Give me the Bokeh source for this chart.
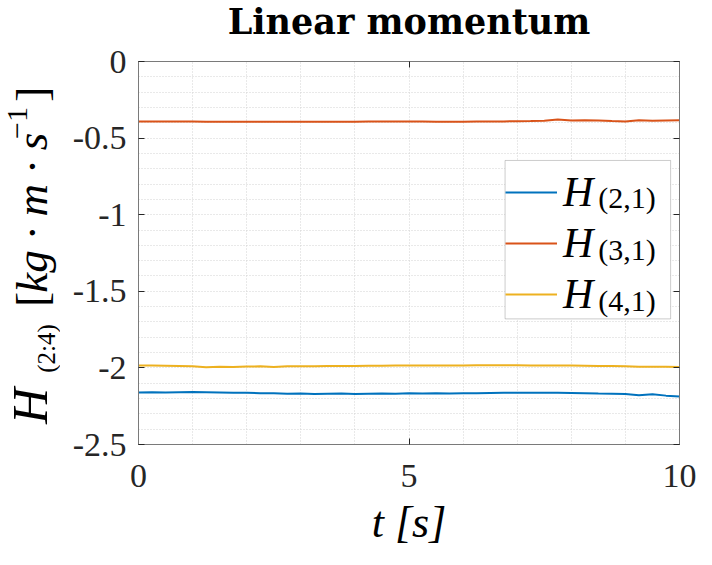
from math import pi
from bokeh.plotting import figure
from bokeh.layouts import gridplot
from bokeh.models import (Range1d, LinearAxis, FixedTicker, Label, Legend,
                          LegendItem, BoxAnnotation)
from bokeh.embed import file_html
from bokeh.resources import INLINE

# ---------------- data ----------------
t = [0.0, 0.25, 0.5, 0.75, 1.0, 1.25, 1.5, 1.75, 2.0, 2.25, 2.5, 2.75, 3.0,
     3.25, 3.5, 3.75, 4.0, 4.25, 4.5, 4.75, 5.0, 5.25, 5.5, 5.75, 6.0, 6.25,
     6.5, 6.75, 7.0, 7.25, 7.5, 7.75, 8.0, 8.25, 8.5, 8.75, 9.0, 9.25, 9.5,
     9.75, 10.0]

H21 = [-2.160, -2.159, -2.160, -2.159, -2.158, -2.159, -2.160, -2.162, -2.163,
       -2.165, -2.166, -2.168, -2.167, -2.170, -2.168, -2.167, -2.170, -2.168,
       -2.167, -2.168, -2.166, -2.167, -2.166, -2.167, -2.166, -2.165, -2.164,
       -2.163, -2.162, -2.162, -2.162, -2.163, -2.164, -2.165, -2.167, -2.168,
       -2.170, -2.178, -2.172, -2.181, -2.186]

H31 = [-0.392, -0.392, -0.391, -0.392, -0.392, -0.393, -0.394, -0.394, -0.394,
       -0.394, -0.393, -0.393, -0.393, -0.393, -0.393, -0.393, -0.393, -0.392,
       -0.392, -0.392, -0.392, -0.392, -0.393, -0.393, -0.394, -0.392, -0.392,
       -0.391, -0.390, -0.389, -0.386, -0.379, -0.385, -0.384, -0.385, -0.389,
       -0.391, -0.384, -0.386, -0.385, -0.384]

H41 = [-1.984, -1.985, -1.986, -1.987, -1.990, -1.995, -1.993, -1.994, -1.991,
       -1.990, -1.994, -1.990, -1.989, -1.990, -1.988, -1.988, -1.987, -1.986,
       -1.986, -1.985, -1.985, -1.985, -1.984, -1.984, -1.984, -1.983, -1.983,
       -1.983, -1.983, -1.984, -1.984, -1.985, -1.985, -1.986, -1.987, -1.988,
       -1.990, -1.993, -1.992, -1.993, -1.994]

series_names = ["(2,1)", "(3,1)", "(4,1)"]
series_colors = ["#0072BD", "#D95319", "#EDB120"]

x_ticks = [0, 5, 10]
x_tick_labels = ["0", "5", "10"]
y_ticks = [0, -0.5, -1, -1.5, -2, -2.5]
y_tick_labels = ["0", "-0.5", "-1", "-1.5", "-2", "-2.5"]
x_minor = list(range(0, 11))
y_minor = [round(-0.1 * k, 1) for k in range(0, 26)]

title_text = "Linear momentum"
x_label_text = "t [s]"

SERIF = "Liberation Serif"
TEXT_COLOR = "#262626"
AX_COLOR = "#7a7a7a"

# ---------------- main figure ----------------
p = figure(width=636, height=507, output_backend="svg", toolbar_location=None,
           x_range=Range1d(0, 10), y_range=Range1d(-2.5, 0),
           min_border_left=78, min_border_right=17,
           min_border_top=19, min_border_bottom=105)
p.background_fill_color = "white"
p.border_fill_color = "white"
p.outline_line_color = AX_COLOR
p.outline_line_width = 1


def style_axis(ax, ticks, labels=None):
    ax.ticker = FixedTicker(ticks=ticks)
    ax.major_tick_in = 6
    ax.major_tick_out = 0
    ax.minor_tick_in = 0
    ax.minor_tick_out = 0
    ax.major_tick_line_color = "#262626"
    ax.axis_line_color = AX_COLOR
    ax.major_label_text_font = SERIF
    ax.major_label_text_color = TEXT_COLOR
    if labels is not None:
        ax.major_label_overrides = {tk: lb for tk, lb in zip(ticks, labels)}
        ax.major_label_text_font_size = "34px"
    else:
        ax.major_label_overrides = {tk: "" for tk in ticks}
        ax.major_label_text_font_size = "1px"
        ax.major_label_standoff = 0


style_axis(p.xaxis[0], x_ticks, x_tick_labels)
style_axis(p.yaxis[0], y_ticks, y_tick_labels)
p.xaxis[0].major_label_standoff = 20
p.yaxis[0].major_label_standoff = 12
p.xaxis[0].axis_label = x_label_text
p.xaxis[0].axis_label_text_font = SERIF
p.xaxis[0].axis_label_text_font_style = "italic"
p.xaxis[0].axis_label_text_font_size = "44px"
p.xaxis[0].axis_label_text_color = "#000000"
p.xaxis[0].axis_label_standoff = 8

top_ax = LinearAxis()
style_axis(top_ax, x_ticks)
p.add_layout(top_ax, "above")
right_ax = LinearAxis()
style_axis(right_ax, y_ticks)
p.add_layout(right_ax, "right")

p.xgrid.ticker = FixedTicker(ticks=x_minor)
p.ygrid.ticker = FixedTicker(ticks=y_minor)
for g in (p.xgrid[0], p.ygrid[0]):
    g.grid_line_color = "#d2d2d2"
    g.grid_line_dash = "1 2"
    g.grid_line_width = 1

renderers = []
for ys, col in zip([H21, H31, H41], series_colors):
    renderers.append(p.line(t, ys, line_color=col, line_width=2))

# legend: white box underneath, transparent legend on top, subscripts between
p.add_layout(BoxAnnotation(left=6.776, right=9.836, top=-0.646, bottom=-1.680,
                           fill_color="white", fill_alpha=1.0,
                           line_color="#555555", line_width=1,
                           level="underlay"))

for name, yc in zip(series_names, [-0.886, -1.224, -1.562]):
    p.add_layout(Label(x=8.50, y=yc, text=name, text_font=SERIF,
                       text_font_size="30px", text_color="#000000",
                       text_align="left", text_baseline="middle"))

legend = Legend(items=[LegendItem(label="H", renderers=[r]) for r in renderers],
                location=(367, 126), padding=3, spacing=3,
                glyph_width=52, glyph_height=40, label_height=40,
                label_width=100, label_standoff=6,
                label_text_font=SERIF, label_text_font_style="italic",
                label_text_font_size="42px", label_text_color="#000000",
                border_line_color=None,
                background_fill_alpha=0.0,
                margin=0)
p.add_layout(legend)

# ---------------- title strip (shares the x range of the plot) ----------------
top_fig = figure(width=636, height=42, output_backend="svg",
                 toolbar_location=None, x_range=p.x_range,
                 y_range=Range1d(0, 42), x_axis_type=None, y_axis_type=None,
                 min_border_left=78, min_border_right=17,
                 min_border_top=0, min_border_bottom=0)
top_fig.outline_line_color = None
top_fig.background_fill_color = "white"
top_fig.border_fill_color = "white"
top_fig.add_layout(Label(x=5.0, y=21, text=title_text, text_font="DejaVu Serif",
                         text_font_style="bold", text_font_size="35px",
                         text_color="#000000", text_align="center",
                         text_baseline="middle"))

# ---------------- y label strip (shares the y range of the plot) ----------------
left_fig = figure(width=60, height=507, output_backend="svg",
                  toolbar_location=None, x_range=Range1d(0, 60),
                  y_range=p.y_range, x_axis_type=None, y_axis_type=None,
                  min_border_left=0, min_border_right=0,
                  min_border_top=19, min_border_bottom=105)
left_fig.outline_line_color = None
left_fig.background_fill_color = "white"
left_fig.border_fill_color = "white"

ylab_parts = [
    ("H", 29.5, -2.366, "italic", "50px"),
    ("(2:4)", 45.7, -2.032, "normal", "25px"),
    ("[", 31.2, -1.601, "normal", "45px"),
    ("kg · m · s", 31.2, -1.510, "italic", "45px"),
    ("−1", 17.1, -0.506, "normal", "30px"),
    ("]", 31.2, -0.262, "normal", "45px"),
]
for txt, xx, yy, style, size in ylab_parts:
    left_fig.add_layout(Label(x=xx, y=yy, text=txt, angle=pi / 2,
                              text_font=SERIF, text_font_style=style,
                              text_font_size=size, text_color="#000000",
                              text_align="left", text_baseline="middle"))

grid = gridplot([[None, top_fig], [left_fig, p]], toolbar_location=None)
open("out.html", "w").write(file_html(grid, INLINE))
